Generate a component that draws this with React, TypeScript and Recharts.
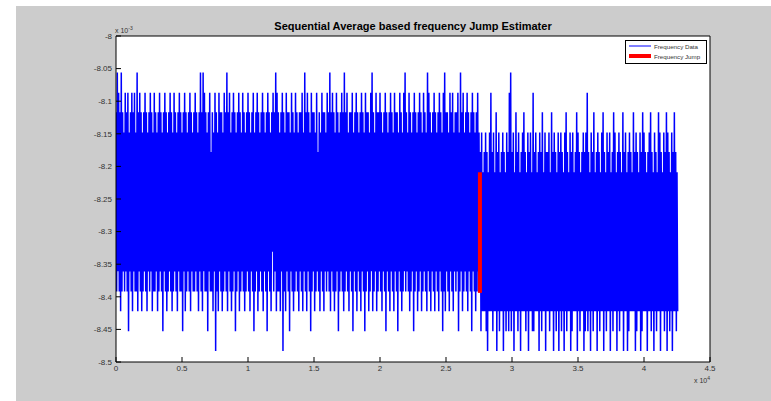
import React from 'react'
import { LineChart, Line, XAxis, YAxis } from 'recharts'

// quantised frequency levels (x 10^-3)
const LEVEL_KEYS = 'abcdefghijklmno'
const LEVELS = [
  -8.056, -8.087, -8.117, -8.148, -8.178, -8.209, -8.239, -8.27,
  -8.3, -8.331, -8.361, -8.392, -8.422, -8.453, -8.483,
]

// one code per stored sample (every 50th sample), alternating high / low
const SAMPLE_STEP = 50
const BEFORE_JUMP = [
  'clakblcmalckdlbkclbndkclbmckbldlamckblcm',
  'dlckblcmdkclbkcmdlblckdmclbkcldnckblcmdl',
  'ckblcmdlbkcldmckblcldnckbmcldkclbmckdlcl',
  'bkcldmckalcmakblcldnckblelcmdkbocldmbkcl',
  'cmdlbkclamckbldmclbkcndlckbmcldkblcmdlck',
  'blcmdkclbndlckbmcldkclbmckdlcnbkcldmcjbl',
  'ckamblcldmckbocldmbkclcndkblcmdlbkcldmck',
  'clbmdkalcmbkcldnblckcmdlbkelcmdkblcmckdl',
  'bkclamckblcmdlbkcndlckblcmalckbldmckclbn',
  'dkclbmckdlcmbkcldnblckcmdlbkamcldkbmclck',
  'blcmdkclbnckdlcmbkcldmbkclcndkblcmdlbkal',
  'ckdlbmcldkcnblckdmclbkcmdlbkcldmakblcmdk',
  'clbmckdlcmbkcldnblamckcldmbkclbmdkclckbn',
  'dlakcmbldkclbmckdlcnbkcldmclbkdl',
]
const AFTER_JUMP = [
  'endmfmemdneofmdmbmendmfmcoemdnfmemdoemfn',
  'dmenbmanemdofmcmendmfoemdmcmenfmdoemdmfn',
  'bnemdmfmeodmencmfmdoememdnfmcmeodmenfmdo',
  'emdnemfodmcnemfmdoendmfmemcodmenfmemdoen',
  'dmbnemfodmencmfmeodmenfmdmcoemfndmemdofm',
  'encmdmfoemdnemfmcoemdmfoendmemfmcmeodnem',
  'fmdoencmdmemfoemdmcnemfodmenfmcmdoemfmdn',
  'emcodmenfmdoemcmenfm',
]

const JUMP = [
  { x: 27570, y: -8.209 },
  { x: 27570, y: -8.394 },
]

const X_TICKS = [0, 5000, 10000, 15000, 20000, 25000, 30000, 35000, 40000, 45000]
const Y_TICKS = [-8.5, -8.45, -8.4, -8.35, -8.3, -8.25, -8.2, -8.15, -8.1, -8.05, -8]

const freqData = (BEFORE_JUMP.join('') + AFTER_JUMP.join(''))
  .split('')
  .map((c, i) => ({ x: i * SAMPLE_STEP, y: LEVELS[LEVEL_KEYS.indexOf(c)] }))

const FONT = '"Liberation Sans", Arial, Helvetica, sans-serif'
const tickStyle = { fontSize: 8, fill: '#333', fontFamily: FONT }

export default function App() {
  return (
    <div style={{ position: 'absolute', left: 0, top: 0, width: 771, height: 401, background: '#fff', fontFamily: FONT }}>
      <div style={{ position: 'absolute', left: 16, top: 6, right: 0, bottom: 0, background: '#cccccc' }} />
      <div style={{ position: 'absolute', left: 116, top: 36, width: 594, height: 326, background: '#fff' }} />

      <div style={{ position: 'absolute', left: 0, top: 20, width: 826, textAlign: 'center', fontSize: 11, fontWeight: 'bold', color: '#000' }}>
        Sequential Average based frequency Jump Estimater
      </div>
      <div style={{ position: 'absolute', left: 115, top: 25, fontSize: 7, color: '#333' }}>
        x 10<sup style={{ fontSize: 5 }}>-3</sup>
      </div>
      <div style={{ position: 'absolute', left: 694, top: 375, fontSize: 7, color: '#333' }}>
        x 10<sup style={{ fontSize: 5 }}>4</sup>
      </div>

      <div style={{ position: 'absolute', top: 0, left: 0 }}>
        <LineChart width={771} height={401} data={freqData} margin={{ top: 0, right: 0, bottom: 0, left: 0 }}>
          <XAxis
            dataKey="x"
            type="number"
            domain={[0, 45000]}
            ticks={X_TICKS}
            allowDataOverflow
            height={39}
            tickSize={-5}
            tickMargin={8}
            tickFormatter={(v: number) => String(v / 10000)}
            tick={tickStyle}
            axisLine={{ stroke: '#000' }}
            tickLine={{ stroke: '#000' }}
          />
          <XAxis
            xAxisId="top"
            orientation="top"
            dataKey="x"
            type="number"
            domain={[0, 45000]}
            ticks={X_TICKS}
            height={36}
            tickSize={-5}
            tick={false}
            axisLine={{ stroke: '#000' }}
            tickLine={{ stroke: '#000' }}
          />
          <YAxis
            type="number"
            domain={[-8.5, -8]}
            ticks={Y_TICKS}
            allowDataOverflow
            width={116}
            tickSize={-5}
            tickMargin={9}
            tick={tickStyle}
            axisLine={{ stroke: '#000' }}
            tickLine={{ stroke: '#000' }}
          />
          <YAxis
            yAxisId="right"
            orientation="right"
            type="number"
            domain={[-8.5, -8]}
            ticks={Y_TICKS}
            width={61}
            tickSize={-5}
            tick={false}
            axisLine={{ stroke: '#000' }}
            tickLine={{ stroke: '#000' }}
          />
          <Line
            dataKey="y"
            stroke="#0000ff"
            strokeWidth={1.5}
            strokeLinejoin="bevel"
            dot={false}
            isAnimationActive={false}
          />
          <Line
            data={JUMP}
            dataKey="y"
            stroke="#ff0000"
            strokeWidth={4}
            dot={false}
            isAnimationActive={false}
          />
        </LineChart>
      </div>

      <div style={{ position: 'absolute', left: 625, top: 40, width: 80, height: 22, background: '#fff', border: '1px solid #000' }}>
        <div style={{ position: 'absolute', left: 3, top: 1, fontSize: 6.2, color: '#333', whiteSpace: 'nowrap', display: 'flex', alignItems: 'center' }}>
          <svg width={23} height={8}><line x1={0} y1={4} x2={22} y2={4} stroke="#0000ff" strokeWidth={1} /></svg>
          <span style={{ marginLeft: 2 }}>Frequency Data</span>
        </div>
        <div style={{ position: 'absolute', left: 3, top: 11, fontSize: 6.2, color: '#333', whiteSpace: 'nowrap', display: 'flex', alignItems: 'center' }}>
          <svg width={23} height={8}><line x1={0} y1={4} x2={22} y2={4} stroke="#ff0000" strokeWidth={4} /></svg>
          <span style={{ marginLeft: 2 }}>Frequency Jump</span>
        </div>
      </div>
    </div>
  )
}
